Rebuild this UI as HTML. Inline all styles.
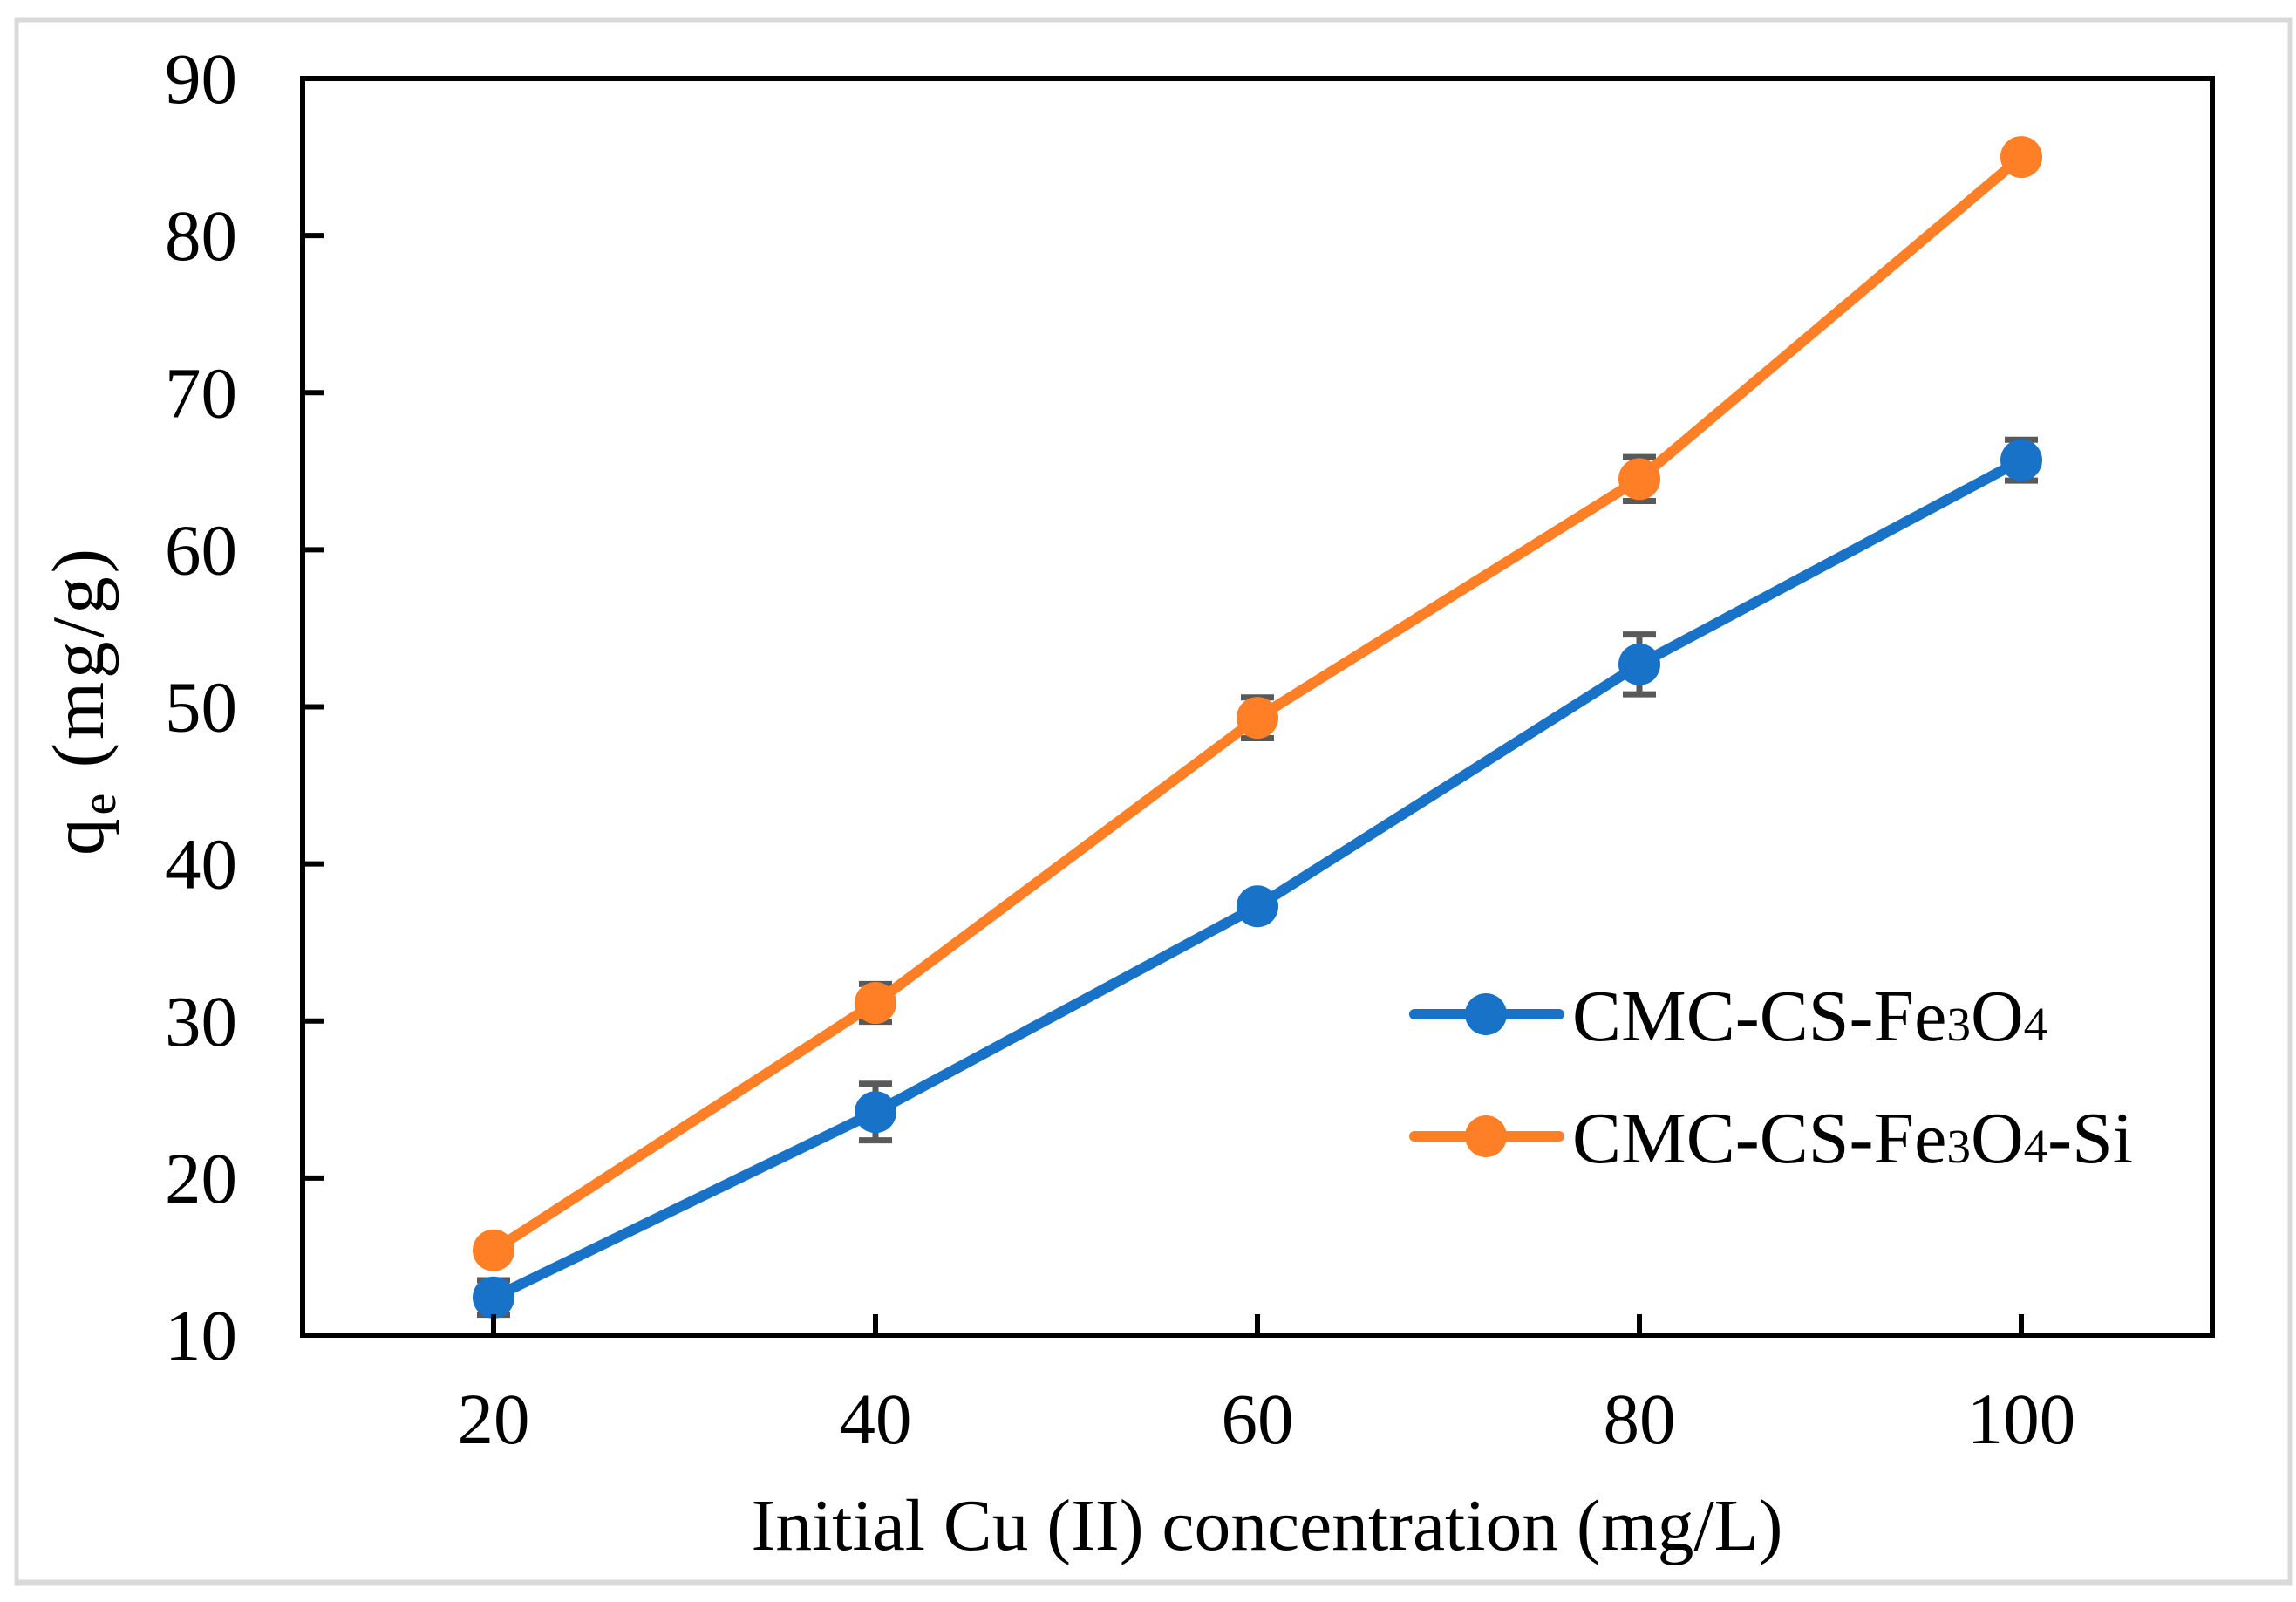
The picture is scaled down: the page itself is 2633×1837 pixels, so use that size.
<!DOCTYPE html>
<html><head><meta charset="utf-8"><style>
html,body{margin:0;padding:0;background:#fff;}
svg{display:block;font-family:"Liberation Serif","Times New Roman",serif;}
</style></head><body>
<svg id="chart" width="2633" height="1837" viewBox="0 0 2633 1837" xmlns="http://www.w3.org/2000/svg">
<rect x="19" y="23" width="2607" height="1793" fill="none" stroke="#d9d9d9" stroke-width="5"/>
<line x1="19" y1="1815" x2="2626" y2="1815" stroke="#d9d9d9" stroke-width="7"/>
<g id="grid"></g>
<g id="series"></g>
<rect x="347" y="90" width="2190" height="1441" fill="none" stroke="#000" stroke-width="6"/>
<g id="axes"></g>
<text x="1453" y="1777" font-size="84" text-anchor="middle" textLength="1183" lengthAdjust="spacingAndGlyphs">Initial Cu (II) concentration (mg/L)</text>
<text transform="translate(118,803) rotate(-90)" font-size="85" text-anchor="middle" letter-spacing="4">q<tspan font-size="56" dy="14">e</tspan><tspan dy="-14"> (mg/g)</tspan></text>
<g>
<line x1="1622" y1="1163" x2="1788" y2="1163" stroke="#1872C8" stroke-width="12" stroke-linecap="round"/>
<circle cx="1704" cy="1163" r="24" fill="#1872C8"/>
<text x="1803" y="1193" font-size="84">CMC-CS-Fe<tspan font-size="55">3</tspan>O<tspan font-size="55">4</tspan></text>
<line x1="1622" y1="1303" x2="1788" y2="1303" stroke="#FF7F27" stroke-width="12" stroke-linecap="round"/>
<circle cx="1704" cy="1303" r="24" fill="#FF7F27"/>
<text x="1803" y="1333" font-size="84">CMC-CS-Fe<tspan font-size="55">3</tspan>O<tspan font-size="55">4</tspan>-Si</text>
</g>
</svg>
<script>
const categories = [20, 40, 60, 80, 100];
const blueValues = [12.4, 24.2, 37.3, 52.7, 65.7];
const blueErrors = [1.1, 1.8, 0.4, 1.9, 1.3];
const orangeValues = [15.4, 31.15, 49.3, 64.5, 85.0];
const orangeErrors = [0.5, 1.2, 1.3, 1.4, 0.5];
const yTicks = [10, 20, 30, 40, 50, 60, 70, 80, 90];
const xTicks = [20, 40, 60, 80, 100];

const NS = "http://www.w3.org/2000/svg";
const X0 = 347, X1 = 2537, Y0 = 1531, Y1 = 90;
function xs(v){ return X0 + (v - 10) / 100 * (X1 - X0); }
function ys(v){ return Y0 - (v - 10) / 80 * (Y0 - Y1); }
function mk(tag, attrs, parent){
  const e = document.createElementNS(NS, tag);
  for (const k in attrs) e.setAttribute(k, attrs[k]);
  parent.appendChild(e);
  return e;
}
const axes = document.getElementById('axes');
const series = document.getElementById('series');

yTicks.forEach(t => {
  const l = mk('line', {x1: X0, x2: X0 + 24, y1: ys(t), y2: ys(t), stroke: '#000', 'stroke-width': 6}, axes);
  
  
  const tx = mk('text', {x: 272, y: ys(t) + 28, 'font-size': 83, 'text-anchor': 'end'}, axes);
  tx.textContent = t;
  
  
});
xTicks.forEach(t => {
  const l = mk('line', {x1: xs(t), x2: xs(t), y1: Y0, y2: Y0 - 24, stroke: '#000', 'stroke-width': 6}, axes);
  
  
  const tx = mk('text', {x: xs(t), y: 1655, 'font-size': 83, 'text-anchor': 'middle'}, axes);
  tx.textContent = t;
  
  
});

function drawSeries(vals, errs, color, name){
  const g = mk('g', {}, series);
  
  
  vals.forEach((v, i) => {
    const x = xs(categories[i]);
    const e = mk('path', {d: `M${x-19},${ys(v+errs[i])}H${x+19}M${x},${ys(v+errs[i])}V${ys(v-errs[i])}M${x-19},${ys(v-errs[i])}H${x+19}`, stroke: '#595959', 'stroke-width': 7, fill: 'none'}, g);
    
    
  });
  const pts = vals.map((v, i) => xs(categories[i]) + ',' + ys(v)).join(' ');
  const pl = mk('polyline', {points: pts, fill: 'none', stroke: color, 'stroke-width': 12, 'stroke-linejoin': 'round'}, g);
  
  
  vals.forEach((v, i) => {
    const c = mk('circle', {cx: xs(categories[i]), cy: ys(v), r: 24, fill: color}, g);
    
    
  });
}
drawSeries(orangeValues, orangeErrors, '#FF7F27', 'cmc-cs-fe3o4-si');
drawSeries(blueValues, blueErrors, '#1872C8', 'cmc-cs-fe3o4');
</script>
</body></html>
